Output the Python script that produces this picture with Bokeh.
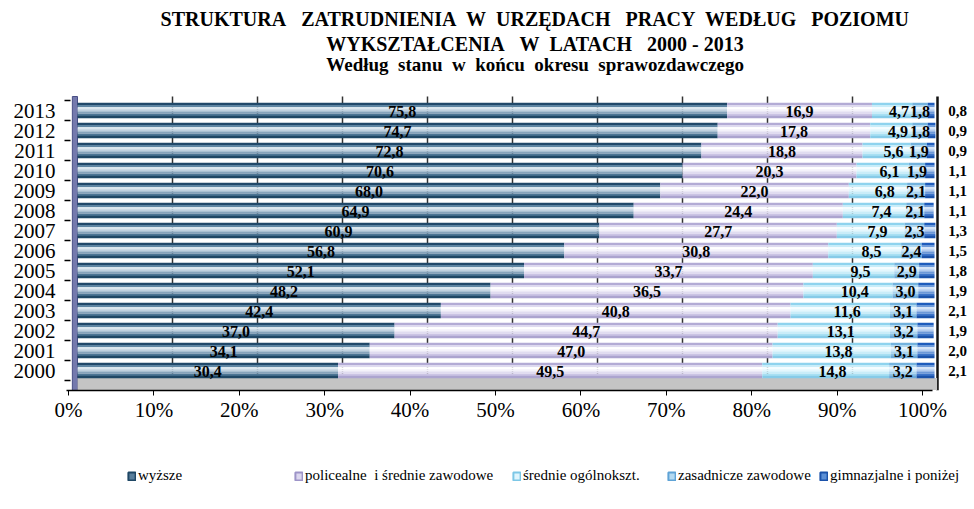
import numpy as np
from bokeh.plotting import figure
from bokeh.layouts import column
from bokeh.models import (Range1d, LinearAxis, FixedTicker, NumeralTickFormatter,
                          Legend, LegendItem, ColumnDataSource, Grid)
from bokeh.core.properties import value
from bokeh.embed import file_html
from bokeh.resources import INLINE

# ---------------- data ----------------
years = [2000, 2001, 2002, 2003, 2004, 2005, 2006, 2007, 2008, 2009, 2010, 2011, 2012, 2013]
wyzsze = [30.4, 34.1, 37.0, 42.4, 48.2, 52.1, 56.8, 60.9, 64.9, 68.0, 70.6, 72.8, 74.7, 75.8]
policealne = [49.5, 47.0, 44.7, 40.8, 36.5, 33.7, 30.8, 27.7, 24.4, 22.0, 20.3, 18.8, 17.8, 16.9]
srednie = [14.8, 13.8, 13.1, 11.6, 10.4, 9.5, 8.5, 7.9, 7.4, 6.8, 6.1, 5.6, 4.9, 4.7]
zasadnicze = [3.2, 3.1, 3.2, 3.1, 3.0, 2.9, 2.4, 2.3, 2.1, 2.1, 1.9, 1.9, 1.8, 1.8]
gimnazjalne = [2.1, 2.0, 1.9, 2.1, 1.9, 1.8, 1.5, 1.3, 1.1, 1.1, 1.1, 0.9, 0.9, 0.8]

NB = "\u00a0"
series_names = ["wyższe", "policealne" + NB + " i średnie zawodowe", "średnie ogólnokszt.",
                "zasadnicze zawodowe", "gimnazjalne i poniżej"]
title_lines = [
    "STRUKTURA" + NB * 2 + " ZATRUDNIENIA" + NB + " W" + NB + " URZĘDACH" + NB * 2 + " PRACY" + NB + " WEDŁUG" + NB * 2 + " POZIOMU",
    "WYKSZTAŁCENIA" + NB * 2 + " W" + NB + " LATACH" + NB * 2 + " 2000 - 2013",
    "Według" + NB + " stanu" + NB + " w" + NB + " końcu" + NB + " okresu" + NB + " sprawozdawczego",
]
x_ticks = [0.0, 0.1, 0.2, 0.3, 0.4, 0.5, 0.6, 0.7, 0.8, 0.9, 1.0]

series = [wyzsze, policealne, srednie, zasadnicze, gimnazjalne]

# stripe palettes (top -> bottom) imitating the cylinder shading
palettes = [
    ["#21496a", "#5f86a3", "#dde8f0", "#bfd0de", "#86a3bb", "#4c7594", "#1f4765"],
    ["#b3abd5", "#dedaef", "#ffffff", "#f4f2fa", "#e0dcf0", "#cbc4e4", "#aca4cf"],
    ["#8fd3ee", "#c8edf9", "#f6fdff", "#e4f7fd", "#c9edf9", "#a8e0f3", "#86cbe8"],
    ["#74b3de", "#b1d8f1", "#e8f5fd", "#cfe8f8", "#a9d3ee", "#8bc1e5", "#6aa8d8"],
    ["#1e5cbc", "#6d9ad9", "#d6e5f7", "#b3cbee", "#6c98d8", "#3d74c9", "#1b52aa"],
]
legend_fill = ["#5a7f9c", "#dcd7ef", "#dff5fd", "#b4daf2", "#5b8fd6"]
legend_line = ["#1f4765", "#9d94c8", "#7cc7e6", "#5fa3d6", "#1b52aa"]

FONT = "Liberation Serif"
WALL_TOP = 2013.7
Y_BOTTOM = 1999.0
W = 972

# ---------------- main figure ----------------
p = figure(width=W, height=430, output_backend="svg", toolbar_location=None,
           x_range=Range1d(-1.517, 104.43), y_range=Range1d(Y_BOTTOM, 2018.5),
           x_axis_location=None, min_border_left=64, min_border_right=0,
           min_border_top=0, min_border_bottom=40)
p.outline_line_color = None
p.background_fill_color = "white"
p.xgrid.visible = False
p.ygrid.visible = False

p.extra_x_ranges = {"axis": Range1d(-0.00468, 1.0585), "grid": Range1d(-2.706, 104.12)}

# back-wall grid lines
g = Grid(dimension=0, x_range_name="grid", ticker=FixedTicker(ticks=[10, 20, 30, 40, 50, 60, 70, 80, 90]),
         grid_line_color="#333333", grid_line_width=1.5, cross_bounds=(Y_BOTTOM + 0.5, WALL_TOP))
p.add_layout(g)
g2 = Grid(dimension=0, x_range_name="grid", ticker=FixedTicker(ticks=[100]),
          grid_line_color="#111111", grid_line_width=2.5, cross_bounds=(Y_BOTTOM, WALL_TOP))
p.add_layout(g2)

yr = np.array(years, dtype=float)

# left wall and floor
p.quad(left=[-0.6], right=[0.0], bottom=[Y_BOTTOM], top=[WALL_TOP], fill_color="#7479ad",
       line_color="#4a4f86", line_width=1)
p.quad(left=[0.0], right=[100.3], bottom=[Y_BOTTOM + 0.02], top=[yr.min() - 0.38], fill_color="#c4c4c4",
       line_color=None)

# stacked segments with striped shading
bar_h = 0.76
n_str = 7
sh = bar_h / n_str
left = np.zeros(len(years))
centers = []
for si, vals in enumerate(series):
    v = np.array(vals)
    right = left + v
    for k in range(n_str):
        off = bar_h / 2 - sh / 2 - k * sh
        p.hbar(y=yr + off, left=left, right=right, height=sh * 1.06,
               fill_color=palettes[si][k], line_color=None)
    centers.append((left + right) / 2)
    left = right

# value labels
def fmt(a):
    return [f"{x:.1f}".replace(".", ",") for x in a]

label_offsets = [0.0, 0.0, 0.8, 0.0]
for si in range(4):
    src = ColumnDataSource(dict(x=centers[si] + label_offsets[si], y=yr - 0.03, t=fmt(series[si])))
    p.text(x="x", y="y", text="t", source=src, text_align="center", text_baseline="middle",
           text_font=value(FONT), text_font_style="bold", text_font_size="16px", text_color="black")
src = ColumnDataSource(dict(x=[101.6] * len(years), y=yr, t=fmt(gimnazjalne)))
p.text(x="x", y="y", text="t", source=src, text_align="left", text_baseline="middle",
       text_font=value(FONT), text_font_style="bold", text_font_size="15px", text_color="black")

# titles
tsrc = ColumnDataSource(dict(x=[53.4, 53.4, 53.4], y=[2017.6, 2016.35, 2015.3], t=title_lines,
                             s=["20px", "20px", "19px"]))
p.text(x="x", y="y", text="t", source=tsrc, text_align="center", text_baseline="middle",
       text_font=value(FONT), text_font_style="bold", text_font_size="s", text_color="black")

# y axis
ya = p.yaxis[0]
ya.ticker = FixedTicker(ticks=years, minor_ticks=[y + 0.5 for y in years] + [years[0] - 0.5])
ya.bounds = (Y_BOTTOM, WALL_TOP)
ya.axis_line_color = None
ya.major_tick_line_color = None
ya.minor_tick_in = 6
ya.minor_tick_out = 0
ya.minor_tick_line_color = "black"
ya.minor_tick_line_width = 1.5
ya.major_label_standoff = 3
ya.major_label_text_font = FONT
ya.major_label_text_font_size = "21px"
ya.major_label_text_color = "black"

# x axis
xa = LinearAxis(x_range_name="axis", ticker=FixedTicker(ticks=x_ticks),
                formatter=NumeralTickFormatter(format="0%"))
xa.bounds = (-0.002, 1.012)
xa.axis_line_color = "black"
xa.axis_line_width = 1.5
xa.major_tick_out = 5
xa.major_tick_in = 0
xa.major_tick_line_color = "black"
xa.minor_tick_line_color = None
xa.major_label_standoff = 2
xa.major_label_text_font = FONT
xa.major_label_text_font_size = "21px"
xa.major_label_text_color = "black"
p.add_layout(xa, "below")

# ---------------- legend strip ----------------
lf = figure(width=W, height=77, output_backend="svg", toolbar_location=None,
            x_range=Range1d(0, 1), y_range=Range1d(0, 1),
            x_axis_location=None, y_axis_location=None,
            min_border_left=0, min_border_right=0, min_border_top=0, min_border_bottom=0)
lf.outline_line_color = None
lf.xgrid.visible = False
lf.ygrid.visible = False
leg_x = [63, 230, 448, 603, 755]
for si, name in enumerate(series_names):
    # legend proxies, kept outside the visible ranges
    r = lf.quad(left=[-3], right=[-2], top=[-2], bottom=[-3], fill_color=legend_fill[si],
                line_color=legend_line[si], line_width=2)
    leg = Legend(items=[LegendItem(label=name, renderers=[r])], location=(leg_x[si], 23),
                 label_text_font=FONT, label_text_font_size="15px", label_text_color="black",
                 glyph_width=9, glyph_height=10, label_standoff=2,
                 border_line_color=None, background_fill_alpha=0, padding=4, margin=0)
    lf.add_layout(leg, "center")

layout = column(p, lf, spacing=0)
open("out.html", "w").write(file_html(layout, INLINE))
